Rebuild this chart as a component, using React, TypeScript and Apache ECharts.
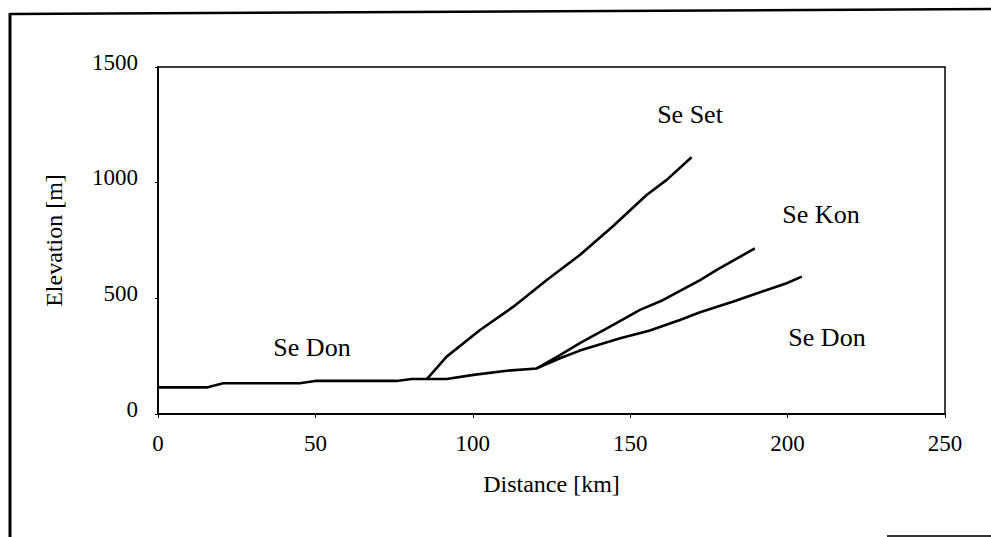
import React, { useEffect, useRef } from "react";
import * as echarts from "echarts";

// Distance [km] and elevation [m]
const donDistance = [0, 15.5, 20.7, 45, 50, 75.8, 80.6, 85.4, 91.7, 100.2, 110.8, 120.3, 127.7, 134, 146.8, 156, 165.8, 172.2, 182.8, 193.4, 199.7, 204.5];
const donElevation = [115, 115, 133, 133, 143, 143, 151, 151, 151, 169, 187, 197, 241, 274, 327, 360, 406, 440, 486, 536, 565, 594];

const konDistance = [120.3, 127.7, 134, 144.6, 153.1, 160.5, 172.2, 177.5, 189.6];
const konElevation = [197, 255, 306, 385, 450, 493, 579, 623, 716];

const setDistance = [85.4, 91.7, 102.3, 112.9, 123.5, 134, 144.6, 155.2, 161.6, 169.5];
const setElevation = [151, 248, 363, 464, 579, 687, 813, 947, 1012, 1110];

const xTicks = [0, 50, 100, 150, 200, 250];
const yTicks = [0, 500, 1000, 1500];

const seriesNames = ["Se Don", "Se Kon", "Se Set"];

const FONT = "'Liberation Serif', 'Times New Roman', serif";

function pairs(xs: number[], ys: number[]) {
  return xs.map((x, i) => [x, ys[i]]);
}

export default function App() {
  const ref = useRef<HTMLDivElement>(null);

  useEffect(() => {
    if (!ref.current) return;
    const chart = echarts.init(ref.current, undefined, { renderer: "svg" });
    const lineStyle = { color: "#000", width: 2.6 };
    const mkSeries = (name: string, data: number[][]) => ({
      name,
      type: "line",
      data,
      showSymbol: false,
      symbol: "none",
      lineStyle,
      silent: true,
    });
    chart.setOption({
      animation: false,
      backgroundColor: "#fff",
      grid: {
        left: 158,
        top: 67,
        right: 46,
        bottom: 123,
        show: true,
        borderColor: "#000",
        borderWidth: 1.5,
      },
      xAxis: {
        type: "value",
        min: xTicks[0],
        max: xTicks[xTicks.length - 1],
        interval: 50,
        name: "Distance [km]",
        nameLocation: "middle",
        nameGap: 58,
        nameTextStyle: { fontFamily: FONT, fontSize: 24, color: "#000" },
        axisLine: { show: true, onZero: false, lineStyle: { color: "#000", width: 2 } },
        axisTick: { show: true, length: 4, lineStyle: { color: "#000", width: 1 } },
        axisLabel: {
          fontFamily: FONT,
          fontSize: 23,
          color: "#000",
          margin: 18,
          formatter: (v: number) => String(v),
        },
        splitLine: { show: false },
      },
      yAxis: {
        type: "value",
        min: yTicks[0],
        max: yTicks[yTicks.length - 1],
        interval: 500,
        name: "Elevation [m]",
        nameLocation: "middle",
        nameGap: 92,
        nameTextStyle: { fontFamily: FONT, fontSize: 24, color: "#000" },
        axisLine: { show: true, onZero: false, lineStyle: { color: "#000", width: 2 } },
        axisTick: { show: true, length: 3, lineStyle: { color: "#000", width: 1 } },
        axisLabel: {
          fontFamily: FONT,
          fontSize: 23,
          color: "#000",
          margin: 20,
          verticalAlign: "bottom",
          lineHeight: 10,
          formatter: (v: number) => String(v),
        },
        splitLine: { show: false },
      },
      series: [
        mkSeries(seriesNames[0], pairs(donDistance, donElevation)),
        mkSeries(seriesNames[1], pairs(konDistance, konElevation)),
        mkSeries(seriesNames[2], pairs(setDistance, setElevation)),
      ],
      graphic: [
        { type: "line", shape: { x1: 10, y1: 14, x2: 991, y2: 9 }, style: { stroke: "#000", lineWidth: 2.5 } },
        { type: "line", shape: { x1: 10, y1: 13, x2: 10, y2: 537 }, style: { stroke: "#000", lineWidth: 3 } },
        { type: "line", shape: { x1: 887, y1: 536, x2: 991, y2: 536 }, style: { stroke: "#333", lineWidth: 2 } },
        { type: "text", x: 690, y: 114, style: { text: "Se Set", font: `26px ${FONT}`, fill: "#000", align: "center", verticalAlign: "middle" } },
        { type: "text", x: 821, y: 214, style: { text: "Se Kon", font: `26px ${FONT}`, fill: "#000", align: "center", verticalAlign: "middle" } },
        { type: "text", x: 827, y: 337, style: { text: "Se Don", font: `26px ${FONT}`, fill: "#000", align: "center", verticalAlign: "middle" } },
        { type: "text", x: 312, y: 347, style: { text: "Se Don", font: `26px ${FONT}`, fill: "#000", align: "center", verticalAlign: "middle" } },
      ],
    });
    return () => chart.dispose();
  }, []);

  return (
    <div
      ref={ref}
      style={{ position: "fixed", left: 0, top: 0, width: 991, height: 537, background: "#fff" }}
    />
  );
}
